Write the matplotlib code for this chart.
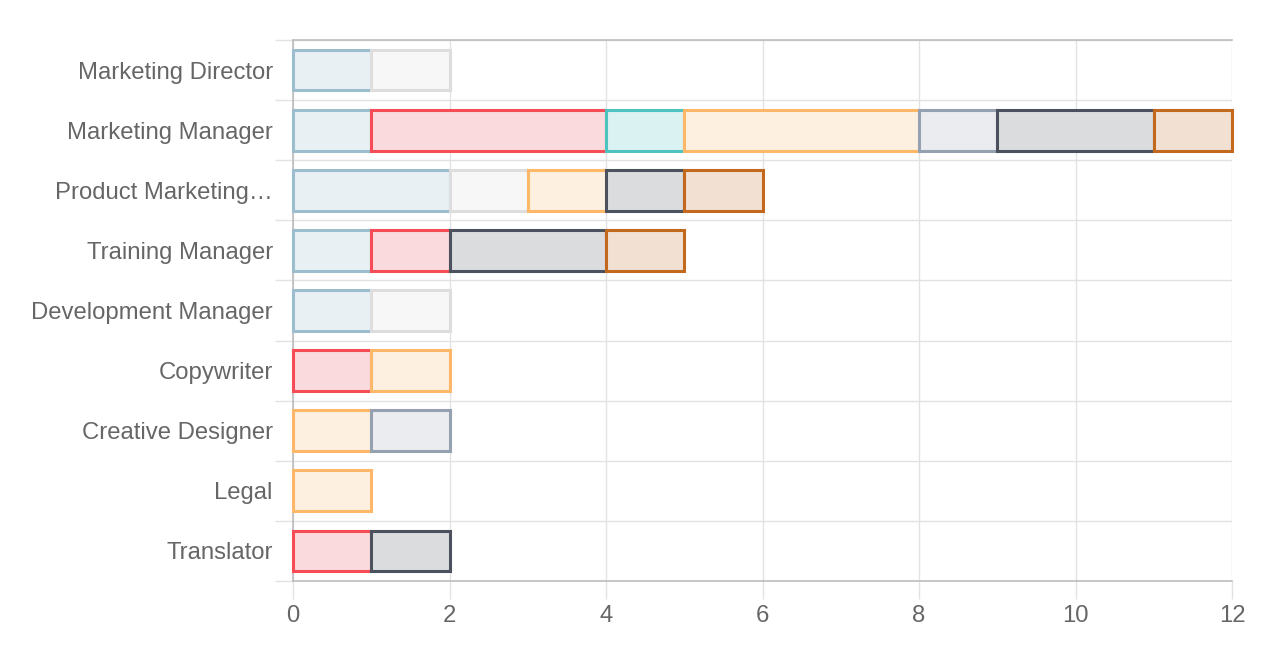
import matplotlib
matplotlib.use("Agg")
import matplotlib.pyplot as plt
import numpy as np

categories = ["Marketing Director", "Marketing Manager", "Product Marketing…",
              "Training Manager", "Development Manager", "Copywriter",
              "Creative Designer", "Legal", "Translator"]

# one list per stacked series, in drawing order
s_blue   = [1, 1, 2, 1, 1, 0, 0, 0, 0]
s_light  = [1, 0, 1, 0, 1, 0, 0, 0, 0]
s_red    = [0, 3, 0, 1, 0, 1, 0, 0, 1]
s_teal   = [0, 1, 0, 0, 0, 0, 0, 0, 0]
s_orange = [0, 3, 1, 0, 0, 1, 1, 1, 0]
s_slate  = [0, 1, 0, 0, 0, 0, 1, 0, 0]
s_dark   = [0, 2, 1, 2, 0, 0, 0, 0, 1]
s_brown  = [0, 1, 1, 1, 0, 0, 0, 0, 0]

series = [s_blue, s_light, s_red, s_teal, s_orange, s_slate, s_dark, s_brown]
edges = ["#9bbdce", "#dddddd", "#f54c56", "#4ec2be", "#fdb769", "#95a0b0", "#4b515d", "#c2691e"]
fills = ["#e8f0f4", "#f7f7f7", "#fbdadd", "#daf2f2", "#fef0e0", "#eaecef", "#dbdcde", "#f2e1d2"]

plt.rcParams["font.family"] = ["Liberation Sans", "DejaVu Sans"]

fig = plt.figure(figsize=(12.72, 6.58), dpi=100)
ax = fig.add_axes([293 / 1272, 1 - 581 / 658, (1232 - 293) / 1272, (581 - 40) / 658])

y = np.arange(len(categories))
left = np.zeros(len(categories))
for vals, ec, fc in zip(series, edges, fills):
    vals = np.array(vals, dtype=float)
    mask = vals > 0
    bars = ax.barh(y[mask], vals[mask], left=left[mask], height=0.68, color=fc,
                   edgecolor=ec, linewidth=2.2, zorder=3)
    for b in bars:
        b.set_clip_on(False)
    left += vals

ax.set_xlim(0, 12)
ax.set_ylim(len(categories) - 0.5, -0.5)
ax.set_xticks(np.arange(0, 13, 2))
ax.set_yticks(y)
ax.set_yticklabels(categories)
ax.set_yticks(np.arange(-0.5, len(categories)), minor=True)

ax.tick_params(axis="y", which="major", length=0, pad=14.5, labelsize=17.2, labelcolor="#666666")
ax.tick_params(axis="y", which="minor", length=13, width=1, color="#e2e2e2")
ax.tick_params(axis="x", which="major", length=13, width=1, color="#e2e2e2", pad=4,
               labelsize=17.2, labelcolor="#666666")

ax.grid(True, axis="x", which="major", color="#e2e2e2", linewidth=1, zorder=0)
ax.grid(True, axis="y", which="minor", color="#e2e2e2", linewidth=1, zorder=0)

for side in ["left", "bottom", "top"]:
    ax.spines[side].set_color("#bdbdbd")
    ax.spines[side].set_linewidth(1.2)
ax.spines["right"].set_visible(False)

fig.savefig("out.png", dpi=100)
